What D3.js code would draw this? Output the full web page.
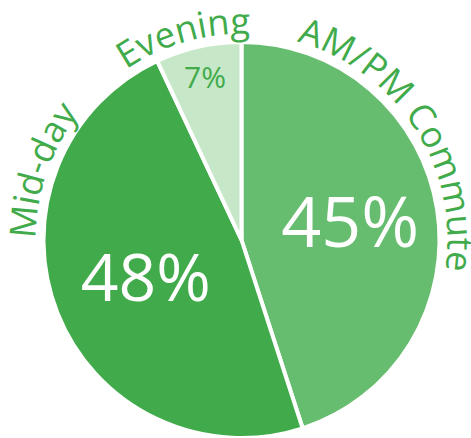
<!DOCTYPE html>
<html><head><meta charset="utf-8">
<script src="https://cdn.jsdelivr.net/npm/d3@7"></script>
<style>html,body{margin:0;padding:0;background:#fff;}svg{display:block;}</style>
</head><body>
<svg id="chart" width="471" height="438"></svg>
<script>
const categories = ["AM/PM Commute", "Mid-day", "Evening"];
const values = [45, 48, 7];
const pctLabels = ["45%", "48%", "7%"];
const colors = ["#66bd6f", "#41ab4b", "#c7e8c8"];
const labelAngles = [57, 289, 344];   // degrees, where curved labels are centred
const pctRadius = [110, 103, 167];
const pctSize = [70, 66, 30];
const pctColor = ["#ffffff", "#ffffff", "#41ab4b"];

const W = 471, H = 438, cx = 241.5, cy = 240, R = 198, RT = 206;
const svg = d3.select("#chart");
const g = svg.append("g").attr("transform", `translate(${cx},${cy})`);
const pie = d3.pie().sort(null).value(d => d)(values);
const arc = d3.arc().innerRadius(0).outerRadius(R);

g.selectAll("path.slice").data(pie).join("path")
  .attr("class", "slice")
  .attr("d", arc)
  .attr("fill", (d, i) => colors[i])
  .attr("stroke", "#fff").attr("stroke-width", 4).attr("stroke-linejoin", "round");

g.append("path").attr("id", "labelArc")
  .attr("d", `M0,${-RT} A${RT},${RT} 0 1 1 0,${RT} A${RT},${RT} 0 1 1 0,${-RT}`)
  .attr("fill", "none");

const circ = 2 * Math.PI * RT;
g.selectAll("text.cat").data(categories).join("text")
  .attr("class", "cat")
  .attr("font-family", "'Open Sans', sans-serif")
  .attr("font-size", 36)
  .attr("fill", "#41ab4b")
  .append("textPath")
  .attr("href", "#labelArc")
  .attr("startOffset", (d, i) => (labelAngles[i] / 360 * circ))
  .attr("text-anchor", "middle")
  .text(d => d);

g.selectAll("text.pct").data(pie).join("text")
  .attr("class", "pct")
  .attr("font-family", "'Open Sans', sans-serif")
  .attr("font-size", (d, i) => pctSize[i])
  .attr("fill", (d, i) => pctColor[i])
  .attr("text-anchor", "middle")
  .attr("dy", "0.35em")
  .attr("transform", (d, i) => {
    const a = (d.startAngle + d.endAngle) / 2;
    return `translate(${Math.sin(a) * pctRadius[i]},${-Math.cos(a) * pctRadius[i]})`;
  })
  .text((d, i) => pctLabels[i]);
</script>
</body></html>
